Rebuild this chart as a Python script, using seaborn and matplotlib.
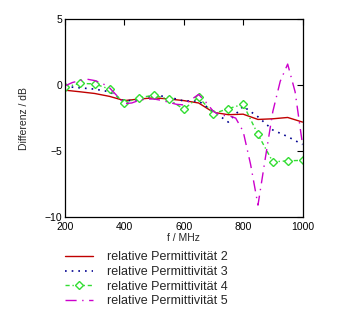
import matplotlib
matplotlib.use("Agg")
import matplotlib.pyplot as plt
import seaborn as sns
import pandas as pd

# Data
f_a = [200, 250, 300, 350, 400, 450, 500, 550, 600, 650, 700, 750, 800, 850, 900, 950, 1000]
perm2 = [-0.38, -0.5, -0.63, -0.85, -1.17, -1.05, -0.96, -1.05, -1.17, -1.35, -2.06, -2.24, -2.2, -2.6, -2.55, -2.45, -2.8]
perm3 = [-0.1, -0.2, -0.3, -0.5, -1.2, -1.1, -0.75, -0.9, -1.2, -1.2, -2.0, -2.8, -1.6, -2.4, -3.4, -3.9, -4.5]
perm4 = [-0.15, 0.13, 0.1, -0.3, -1.37, -0.95, -0.76, -1.07, -1.83, -0.91, -2.16, -1.78, -1.45, -3.74, -5.82, -5.74, -5.7]
f_b = [200, 225, 250, 275, 300, 325, 350, 375, 400, 425, 450, 475, 500, 525, 550, 575, 600,
       625, 650, 675, 700, 725, 750, 775, 800, 825, 850, 875, 900, 925, 950, 975, 1000]
perm5 = [-0.05, 0.2, 0.35, 0.45, 0.35, 0.15, -0.2, -0.8, -1.4, -1.35, -1.15, -1.05, -1.05, -1.15, -1.3, -1.45, -1.5,
         -1.1, -0.7, -1.3, -2.0, -2.3, -2.3, -2.5, -3.5, -6.0, -9.1, -5.5, -2.0, 0.3, 1.6, -0.5, -4.5]
labels = ["relative Permittivität 2", "relative Permittivität 3",
          "relative Permittivität 4", "relative Permittivität 5"]
xticks = [200, 400, 600, 800, 1000]
yticks = [-10, -5, 0, 5]

sns.set_style("white")
plt.rcParams['font.family'] = ['Liberation Sans', 'DejaVu Sans']

fig = plt.figure(figsize=(3.47, 3.21), dpi=100)
ax = fig.add_axes([0.1873, 0.324, 0.6845, 0.616])

df_a = pd.DataFrame({"f": f_a, "p2": perm2, "p3": perm3, "p4": perm4})
df_b = pd.DataFrame({"f": f_b, "p5": perm5})

sns.lineplot(data=df_a, x="f", y="p2", ax=ax, color="#c00000", lw=1.0, label=labels[0])
sns.lineplot(data=df_a, x="f", y="p3", ax=ax, color="#000090", lw=1.2, linestyle=(0, (1, 3)), label=labels[1])
sns.lineplot(data=df_a, x="f", y="p4", ax=ax, color="#33dd33", lw=1.0, linestyle=(0, (3, 2, 1, 2)),
             marker="D", markersize=4, markerfacecolor="white", markeredgecolor="#33dd33",
             markeredgewidth=1.0, label=labels[2])
sns.lineplot(data=df_b, x="f", y="p5", ax=ax, color="#cc00cc", lw=1.0, linestyle=(0, (8, 4, 1, 4)), label=labels[3])

ax.set_xlim(200, 1000)
ax.set_ylim(-10, 5)
ax.set_xticks(xticks)
ax.set_yticks(yticks)
ax.tick_params(direction="in", length=4, width=0.8, top=True, right=True, labelsize=7.5, pad=2, colors="black")
ax.tick_params(axis="x", pad=3.5)
for s in ax.spines.values():
    s.set_color("black")
    s.set_linewidth(0.9)
ax.set_xlabel("f / MHz", fontsize=7.5, labelpad=1)
ax.set_ylabel("Differenz / dB", fontsize=7.5, labelpad=11)

h, l = ax.get_legend_handles_labels()
ax.get_legend().remove()
fig.legend(h, l, loc="upper left", bbox_to_anchor=(0.168, 0.237), frameon=False,
           fontsize=9, handlelength=2.3, handletextpad=1.1, labelspacing=0.22, borderpad=0)

fig.savefig("out.png", dpi=100, facecolor="white")
